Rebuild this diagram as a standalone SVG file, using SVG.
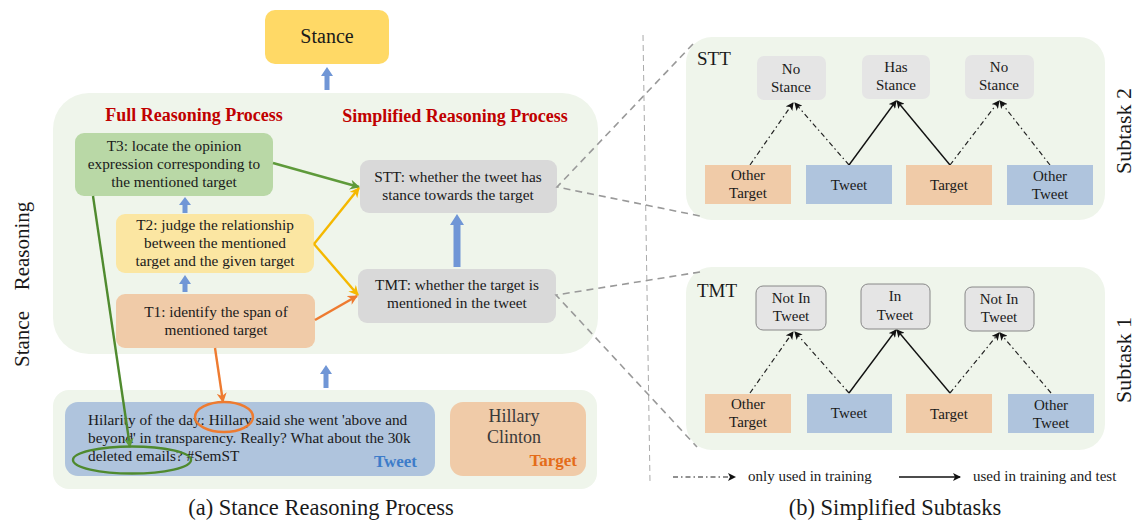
<svg xmlns="http://www.w3.org/2000/svg" width="1137" height="521" viewBox="0 0 1137 521">
<style>
text{font-family:"Liberation Serif","Times New Roman",serif;fill:#1a1a1a}
.t{font-size:15.3px;text-anchor:middle}
.s{font-size:15px;text-anchor:middle}
.h{font-size:18px;font-weight:bold;fill:#C00000;text-anchor:middle}
.cap{font-size:22.5px;text-anchor:middle}
.panel{fill:#EFF5EB}
.blue{fill:#7096D6}
.dd{stroke:#222;stroke-width:1.2;fill:none;stroke-dasharray:5 3 1.5 3}
.so{stroke:#111;stroke-width:1.4;fill:none}
.gd{stroke:#999;stroke-width:1.6;fill:none;stroke-dasharray:7 5}
.peach{fill:#F0CBA8}
.tw{fill:#AFC4DD}
.gray{fill:#E5E5E5}
</style>
<defs>
<marker id="ab" markerWidth="8" markerHeight="8" refX="7" refY="4" orient="auto" markerUnits="userSpaceOnUse"><path d="M0,0 L8,4 L0,8 L2,4 z" fill="#111"/></marker>
<marker id="ag" markerWidth="10" markerHeight="10" refX="9" refY="5" orient="auto" markerUnits="userSpaceOnUse"><path d="M0,0 L10,5 L0,10 L3,5 z" fill="#5E9A3A"/></marker>
<marker id="ay" markerWidth="10" markerHeight="10" refX="9" refY="5" orient="auto" markerUnits="userSpaceOnUse"><path d="M0,0 L10,5 L0,10 L3,5 z" fill="#F5B800"/></marker>
<marker id="ao" markerWidth="10" markerHeight="10" refX="9" refY="5" orient="auto" markerUnits="userSpaceOnUse"><path d="M0,0 L10,5 L0,10 L3,5 z" fill="#EE7B30"/></marker>
</defs>

<!-- panels -->
<rect class="panel" x="53" y="93" width="545" height="261" rx="36"/>
<rect class="panel" x="53" y="390" width="544" height="99" rx="16"/>
<rect class="panel" x="686" y="37" width="419" height="183" rx="26"/>
<rect class="panel" x="686" y="267" width="419" height="183" rx="26"/>

<line x1="643" y1="35" x2="650" y2="482" stroke="#aaa" stroke-width="1" stroke-dasharray="6 4"/>

<text transform="translate(29,246) rotate(-90)" font-size="21" text-anchor="middle">Reasoning</text>
<text transform="translate(29,339) rotate(-90)" font-size="21" text-anchor="middle">Stance</text>
<text class="h" x="194" y="121">Full Reasoning Process</text>
<text class="h" x="455" y="122">Simplified Reasoning Process</text>

<g id="stance"><rect x="265" y="10" width="124" height="54" rx="10" fill="#FFD966"/><text x="327" y="43" font-size="20" text-anchor="middle">Stance</text></g>

<g id="t3"><rect x="75" y="133" width="198" height="63" rx="9" fill="#B9D8A6"/>
<text class="t" x="174" y="151">T3: locate the opinion</text><text class="t" x="174" y="169">expression corresponding to</text><text class="t" x="174" y="187">the mentioned target</text></g>
<g id="t2"><rect x="116" y="214" width="198" height="59" rx="9" fill="#FBE6A2"/>
<text class="t" x="215" y="230">T2: judge the relationship</text><text class="t" x="215" y="248">between the mentioned</text><text class="t" x="215" y="266">target and the given target</text></g>
<g id="t1"><rect x="116" y="294" width="199" height="54" rx="9" fill="#F0CBA8"/>
<text class="t" x="216" y="317">T1: identify the span of</text><text class="t" x="216" y="335">mentioned target</text></g>
<g id="stt"><rect x="360" y="160" width="197" height="53" rx="9" fill="#D9D9D9"/>
<text class="t" x="458" y="182">STT: whether the tweet has</text><text class="t" x="458" y="200">stance towards the target</text></g>
<g id="tmt"><rect x="358" y="269" width="198" height="54" rx="9" fill="#D9D9D9"/>
<text class="t" x="457" y="290">TMT: whether the target is</text><text class="t" x="457" y="308">mentioned in the tweet</text></g>

<g id="tweet"><rect x="65" y="402" width="370" height="74" rx="13" fill="#AFC4DD"/>
<text x="88" y="425" font-size="15.3">Hilarity of the day: Hillary said she went 'above and</text>
<text x="88" y="443" font-size="15.3">beyond' in transparency. Really? What about the 30k</text>
<text x="88" y="461" font-size="15.3">deleted emails? #SemST</text>
<text x="417" y="467" font-size="17" font-weight="bold" text-anchor="end" style="fill:#3D7CC9">Tweet</text></g>
<g id="target"><rect x="450" y="402" width="136" height="74" rx="13" fill="#F0CBA8"/>
<text x="514" y="422" font-size="18" text-anchor="middle" style="fill:#3a3a3a">Hillary</text>
<text x="514" y="443" font-size="18" text-anchor="middle" style="fill:#3a3a3a">Clinton</text>
<text x="577" y="466" font-size="17" font-weight="bold" text-anchor="end" style="fill:#E46C1A">Target</text></g>

<g id="connectors">
<path class="blue" d="M324.5,90 V76 H321 L327,67 L333,76 H329.5 V90 z"/>
<path class="blue" d="M182.5,213 V205 H179 L185,197 L191,205 H187.5 V213 z"/>
<path class="blue" d="M182.5,292 V284 H179 L185,275 L191,284 H187.5 V292 z"/>
<path class="blue" d="M453.5,267 V225 H450 L457,214 L464,225 H460.5 V267 z"/>
<path class="blue" d="M323.5,388 V374 H320 L326,365 L332,374 H328.5 V388 z"/>
<line x1="273" y1="163" x2="359" y2="187" stroke="#5E9A3A" stroke-width="2.4" marker-end="url(#ag)"/>
<line x1="314" y1="244" x2="359" y2="188" stroke="#F5B800" stroke-width="2.4" marker-end="url(#ay)"/>
<line x1="314" y1="244" x2="358" y2="295" stroke="#F5B800" stroke-width="2.4" marker-end="url(#ay)"/>
<line x1="315" y1="320" x2="357" y2="296" stroke="#EE7B30" stroke-width="2.4" marker-end="url(#ao)"/>
<line x1="93" y1="196" x2="130" y2="447" stroke="#4F8A2E" stroke-width="2.4" marker-end="url(#ag)"/>
<line x1="215" y1="348" x2="223" y2="402" stroke="#EE7B30" stroke-width="2.4" marker-end="url(#ao)"/>
<ellipse cx="224" cy="417" rx="29" ry="15" fill="none" stroke="#EE7B30" stroke-width="2.4"/>
<ellipse cx="132" cy="460" rx="59" ry="13.5" fill="none" stroke="#4F8A2E" stroke-width="2.4"/>
<path class="gd" d="M693,44 L557,187 L700,216"/>
<path class="gd" d="M700,272 L556,295 L697,447"/>
<!-- STT arrows -->
<line class="dd" x1="750" y1="165" x2="793" y2="103" marker-end="url(#ab)"/>
<line class="dd" x1="849" y1="165" x2="795" y2="103" marker-end="url(#ab)"/>
<line class="so" x1="849" y1="165" x2="896" y2="101" marker-end="url(#ab)"/>
<line class="so" x1="950" y1="165" x2="897" y2="101" marker-end="url(#ab)"/>
<line class="dd" x1="950" y1="165" x2="999" y2="101" marker-end="url(#ab)"/>
<line class="dd" x1="1050" y1="165" x2="1000" y2="101" marker-end="url(#ab)"/>
<!-- TMT arrows -->
<line class="dd" x1="750" y1="393" x2="793" y2="332" marker-end="url(#ab)"/>
<line class="dd" x1="849" y1="393" x2="795" y2="332" marker-end="url(#ab)"/>
<line class="so" x1="849" y1="393" x2="896" y2="330" marker-end="url(#ab)"/>
<line class="so" x1="950" y1="393" x2="897" y2="330" marker-end="url(#ab)"/>
<line class="dd" x1="950" y1="393" x2="999" y2="333" marker-end="url(#ab)"/>
<line class="dd" x1="1051" y1="393" x2="1000" y2="333" marker-end="url(#ab)"/>
<!-- legend -->
<line class="dd" x1="673" y1="477" x2="735" y2="477" marker-end="url(#ab)"/>
<line class="so" x1="899" y1="477" x2="960" y2="477" marker-end="url(#ab)"/>
</g>

<!-- STT subtask -->
<text x="697" y="65" font-size="19">STT</text>
<g id="stt-no1"><rect class="gray" x="757" y="56" width="69" height="44" rx="7"/><text class="s" x="791" y="74">No</text><text class="s" x="791" y="92">Stance</text></g>
<g id="stt-has"><rect class="gray" x="862" y="55" width="68" height="44" rx="7"/><text class="s" x="896" y="72">Has</text><text class="s" x="896" y="90">Stance</text></g>
<g id="stt-no2"><rect class="gray" x="965" y="55" width="69" height="44" rx="7"/><text class="s" x="999" y="72">No</text><text class="s" x="999" y="90">Stance</text></g>
<g id="stt-ot"><rect class="peach" x="705" y="165" width="86" height="39"/><text class="s" x="748" y="180">Other</text><text class="s" x="748" y="198">Target</text></g>
<g id="stt-tw"><rect class="tw" x="806" y="165" width="86" height="39"/><text class="s" x="849" y="190">Tweet</text></g>
<g id="stt-tg"><rect class="peach" x="906" y="165" width="86" height="40"/><text class="s" x="949" y="190">Target</text></g>
<g id="stt-otw"><rect class="tw" x="1007" y="165" width="86" height="40"/><text class="s" x="1050" y="181">Other</text><text class="s" x="1050" y="199">Tweet</text></g>
<text transform="translate(1131,131) rotate(-90)" font-size="22" text-anchor="middle">Subtask 2</text>

<!-- TMT subtask -->
<text x="697" y="297" font-size="19">TMT</text>
<g id="tmt-no1"><rect class="gray" x="756" y="286" width="70" height="44" rx="7" stroke="#888" stroke-width="1"/><text class="s" x="791" y="303">Not In</text><text class="s" x="791" y="321">Tweet</text></g>
<g id="tmt-in"><rect class="gray" x="861" y="284" width="69" height="45" rx="7" stroke="#888" stroke-width="1"/><text class="s" x="895" y="301">In</text><text class="s" x="895" y="320">Tweet</text></g>
<g id="tmt-no2"><rect class="gray" x="965" y="287" width="69" height="44" rx="7" stroke="#888" stroke-width="1"/><text class="s" x="999" y="304">Not In</text><text class="s" x="999" y="322">Tweet</text></g>
<g id="tmt-ot"><rect class="peach" x="705" y="394" width="86" height="39"/><text class="s" x="748" y="409">Other</text><text class="s" x="748" y="427">Target</text></g>
<g id="tmt-tw"><rect class="tw" x="807" y="394" width="85" height="39"/><text class="s" x="849" y="418">Tweet</text></g>
<g id="tmt-tg"><rect class="peach" x="906" y="394" width="86" height="39"/><text class="s" x="949" y="419">Target</text></g>
<g id="tmt-otw"><rect class="tw" x="1008" y="394" width="86" height="39"/><text class="s" x="1051" y="410">Other</text><text class="s" x="1051" y="428">Tweet</text></g>
<text transform="translate(1131,360) rotate(-90)" font-size="22" text-anchor="middle">Subtask 1</text>

<text x="748" y="481" font-size="15">only used in training</text>
<text x="973" y="481" font-size="15">used in training and test</text>

<text class="cap" x="321" y="515">(a) Stance Reasoning Process</text>
<text class="cap" x="895" y="515">(b) Simplified Subtasks</text>
</svg>
